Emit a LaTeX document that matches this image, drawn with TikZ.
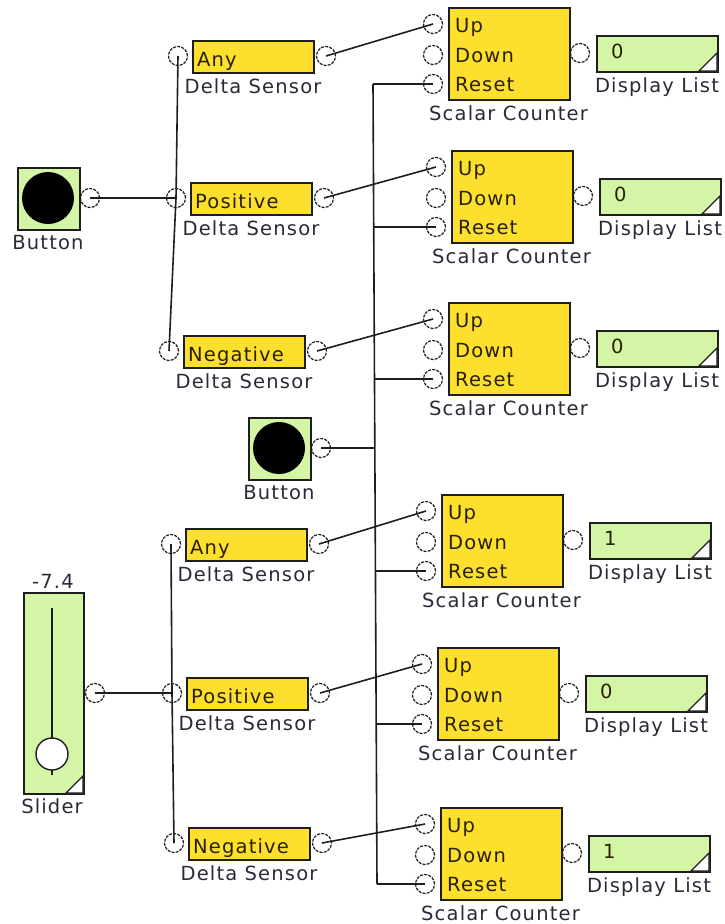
\documentclass[tikz,border=0pt]{standalone}
\usepackage{fontspec}
\newfontfamily\dfont[LetterSpace=6]{DejaVu Sans}
\definecolor{ycol}{RGB}{253,224,45}
\definecolor{gcol}{RGB}{212,245,165}
\definecolor{lcol}{RGB}{45,40,55}
\definecolor{tcol}{RGB}{40,32,0}
\definecolor{ecol}{RGB}{30,30,30}
\tikzset{
 ybox/.style={draw=ecol, line width=1.6pt, fill=ycol, inner sep=0, anchor=north west},
 gbox/.style={draw=ecol, line width=1.6pt, fill=gcol, inner sep=0, anchor=north west},
 port/.style={circle, draw=ecol, line width=1.2pt, dash pattern=on 3pt off 1.2pt, minimum size=19pt, inner sep=0},
 wire/.style={draw=ecol, line width=1.6pt},
 lbl/.style={font=\dfont\fontsize{19.5}{21}\selectfont, text=lcol, anchor=base, inner sep=0},
 btxt/.style={font=\dfont\fontsize{19.5}{21}\selectfont, text=tcol, anchor=base west, inner sep=0},
}
\newcommand{\BButton}[3]{%
\begin{scope}[shift={(#2,#3)}]
\node[gbox, minimum width=62, minimum height=62] (#1box) at (0,0) {};
\node[circle, fill=black, minimum size=52pt, inner sep=0] (#1dot) at (31,31) {};
\node[port] (#1o) at (73,31) {};
\node[lbl] (#1lbl) at (31,82.5) {Button};
\end{scope}}
\newcommand{\DSensor}[4]{%
\begin{scope}[shift={(#2,#3)}]
\node[ybox, minimum width=121, minimum height=32] (#1box) at (0,0) {};
\node[btxt] (#1txt) at (5,26) {#4};
\node[port] (#1i) at (-14,16) {};
\node[port] (#1o) at (134,16) {};
\node[lbl] (#1lbl) at (61,53) {Delta Sensor};
\end{scope}}
\newcommand{\SCounter}[4]{%
\begin{scope}[shift={(#2,#3)}]
\node[ybox, minimum width=121, minimum height=92] (#1box) at (0,0) {};
\node[btxt] (#1tu) at (7,25.5) {Up};
\node[btxt] (#1td) at (7,55.5) {Down};
\node[btxt] (#1tr) at (7,84.5) {Reset};
\node[port] (#1u) at (-15,17) {};
\node[port] (#1d) at (-15,48) {};
\node[port] (#1r) at (-15,77) {};
\node[port] (#1o) at (132,46) {};
\node[lbl] (#1sc) at (60.5,113) {Scalar Counter};
\node[gbox, minimum width=121, minimum height=36] (#1disp) at (148,28) {};
\filldraw[fill=white, draw=ecol, line width=1.3pt] (251,64) -- (269,46) -- (269,64) -- cycle;
\node[btxt] (#1val) at (163,51) {#4};
\node[lbl] (#1dl) at (209,85) {Display List};
\end{scope}}
\begin{document}
\begin{tikzpicture}[x=1pt,y=-1pt]
\useasboundingbox (0,0) rectangle (725,924);
% buttons
\BButton{ba}{17}{167}
\BButton{bb}{248}{417}
% slider
\node[gbox, minimum width=60, minimum height=201] (sl) at (23,592) {};
\filldraw[fill=white, draw=ecol, line width=1.3pt] (66,793) -- (83,776) -- (83,793) -- cycle;
\draw[ecol, line width=1.6pt] (52,608) -- (52,775);
\node[circle, draw=ecol, fill=white, line width=1.4pt, minimum size=32pt, inner sep=0] (knob) at (52,754) {};
\node[port] (slo) at (95,693) {};
\node[lbl] (slv) at (53,588) {-7.4};
\node[lbl] (sll) at (52,813) {Slider};
% delta sensors
\DSensor{d1}{192}{40}{Any}
\DSensor{d2}{190}{182}{Positive}
\DSensor{d3}{183}{335}{Negative}
\DSensor{d4}{185}{528}{Any}
\DSensor{d5}{186}{677}{Positive}
\DSensor{d6}{188}{827}{Negative}
% counters
\SCounter{s1}{448}{7}{0}
\SCounter{s2}{451}{150}{0}
\SCounter{s3}{448}{302}{0}
\SCounter{s4}{441}{494}{1}
\SCounter{s5}{437}{647}{0}
\SCounter{s6}{440}{807}{1}
% wires: top group
\draw[wire] (bao.center) -- (d2i.center);
\draw[wire] (d2i.center) -- (d1i.center);
\draw[wire] (d2i.center) -- (d3i.center);
% bottom group
\draw[wire] (slo.center) -- (d5i.center);
\draw[wire] (d5i.center) -- (d4i.center);
\draw[wire] (d5i.center) -- (d6i.center);
% sensor to counter
\draw[wire] (d1o.center) -- (s1u.center);
\draw[wire] (d2o.center) -- (s2u.center);
\draw[wire] (d3o.center) -- (s3u.center);
\draw[wire] (d4o.center) -- (s4u.center);
\draw[wire] (d5o.center) -- (s5u.center);
\draw[wire] (d6o.center) -- (s6u.center);
% reset bus
\coordinate (j1) at (373,84);
\coordinate (j2) at (373.7,227);
\coordinate (j3) at (374.5,379);
\coordinate (jb) at (374.8,448);
\coordinate (j4) at (375.4,571);
\coordinate (j5) at (376.2,724);
\coordinate (j6) at (377,884);
\draw[wire] (j1) -- (j6);
\draw[wire] (j1) -- (s1r.center);
\draw[wire] (j2) -- (s2r.center);
\draw[wire] (j3) -- (s3r.center);
\draw[wire] (j4) -- (s4r.center);
\draw[wire] (j5) -- (s5r.center);
\draw[wire] (j6) -- (s6r.center);
\draw[wire] (bbo.center) -- (jb);
\end{tikzpicture}
\end{document}
